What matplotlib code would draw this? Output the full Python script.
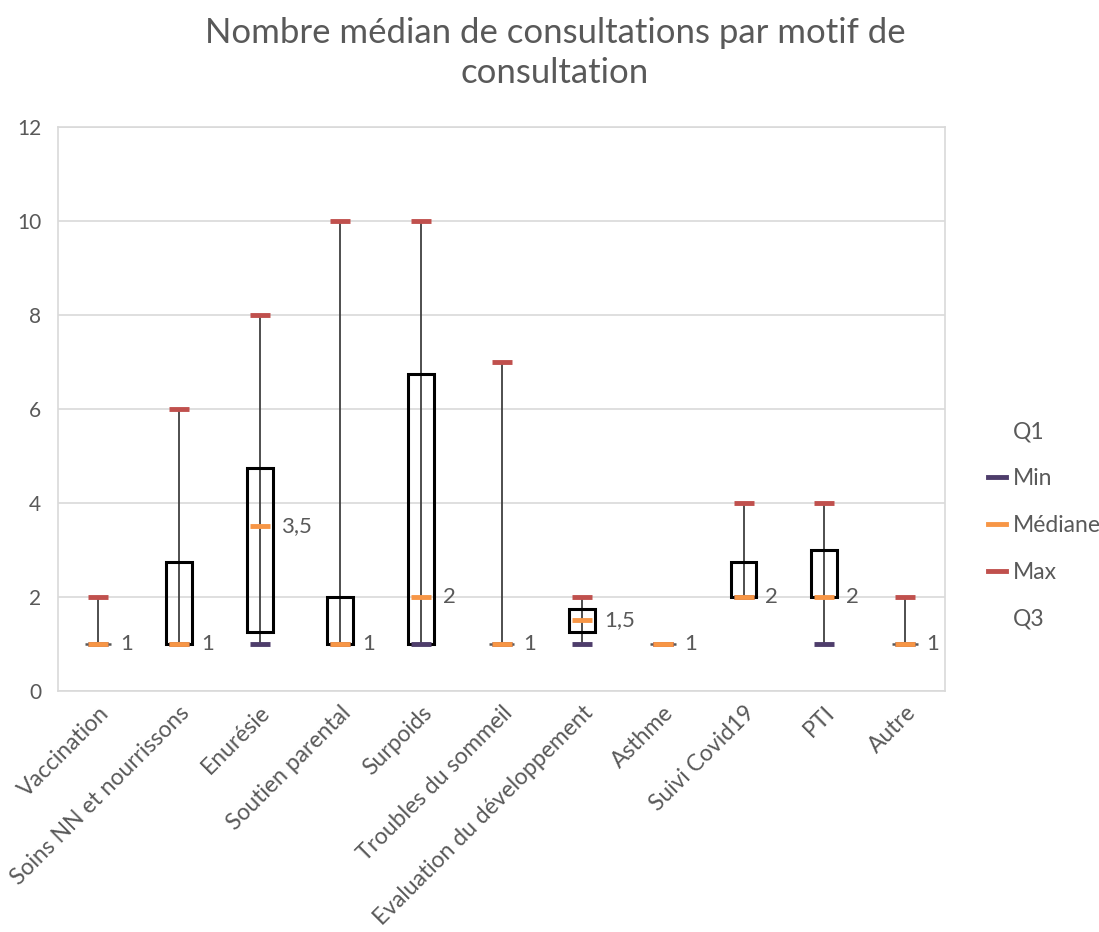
import numpy as np
import matplotlib.pyplot as plt
from matplotlib.lines import Line2D
from matplotlib.patches import Rectangle

plt.rcParams['font.family'] = ['Lato', 'DejaVu Sans']

# data
categories = ['Vaccination', 'Soins NN et nourrissons', 'Enurésie', 'Soutien parental',
              'Surpoids', 'Troubles du sommeil', 'Evaluation du développement',
              'Asthme', 'Suivi Covid19', 'PTI', 'Autre']
q1 = [1, 1, 1.25, 1, 1, 1, 1.25, 1, 2, 2, 1]
mins = [1, 1, 1, 1, 1, 1, 1, 1, 2, 1, 1]
medians = [1, 1, 3.5, 1, 2, 1, 1.5, 1, 2, 2, 1]
maxs = [2, 6, 8, 10, 10, 7, 2, 1, 4, 4, 2]
q3 = [1, 2.75, 4.75, 2, 6.75, 1, 1.75, 1, 2.75, 3, 1]

GRAY = '#595959'
C_MIN = '#4E3D6B'
C_MED = '#F79646'
C_MAX = '#C0504D'

fig = plt.figure(figsize=(10.99, 9.32), dpi=100)
ax = fig.add_axes([0.0528, 0.2586, 0.8072, 0.6051])

x = np.arange(len(categories))
bw = 0.32

# whiskers
ax.vlines(x, mins, maxs, color='#404040', lw=1.3, zorder=2)

# boxes Q1-Q3
for xi, a, b in zip(x, q1, q3):
    lo, hi = min(a, b), max(a, b)
    if hi - lo > 0:
        ax.add_patch(Rectangle((xi - bw / 2, lo), bw, hi - lo, fill=False,
                               edgecolor='black', lw=2.2, zorder=3))
    else:
        ax.hlines(lo, xi - bw / 2, xi + bw / 2, color=GRAY, lw=1.8, zorder=3)

# markers
ms = 14
ax.plot(x, mins, ls='none', marker='_', ms=ms, mew=3.5, color=C_MIN, zorder=4)
ax.plot(x, maxs, ls='none', marker='_', ms=ms, mew=3.5, color=C_MAX, zorder=4)
ax.plot(x, medians, ls='none', marker='_', ms=ms, mew=3.5, color=C_MED, zorder=5)

# median labels
for xi, m in zip(x, medians):
    lab = f'{m:g}'.replace('.', ',')
    ax.text(xi + 0.27, m, lab, ha='left', va='center', fontsize=16, color=GRAY)

ax.set_xlim(-0.5, len(categories) - 0.5)
ax.set_ylim(0, 12)
ax.set_yticks(range(0, 13, 2))
ax.set_xticks(x)
ax.set_xticklabels(categories, rotation=45, ha='right', rotation_mode='anchor')
ax.tick_params(axis='both', colors=GRAY, labelsize=15, length=0)
ax.tick_params(axis='x', labelsize=16.5, pad=8)
ax.tick_params(axis='y', pad=12)
ax.grid(axis='y', color='#D9D9D9', lw=1.2)
ax.set_axisbelow(True)
for s in ax.spines.values():
    s.set_color('#D9D9D9')
    s.set_linewidth(1.2)

fig.suptitle('Nombre médian de consultations par motif de\nconsultation',
             x=0.505, y=0.982, fontsize=25, color=GRAY, linespacing=1.3)

handles = [
    Line2D([], [], color='none', label='Q1'),
    Line2D([], [], color=C_MIN, lw=3.5, label='Min'),
    Line2D([], [], color=C_MED, lw=3.5, label='Médiane'),
    Line2D([], [], color=C_MAX, lw=3.5, label='Max'),
    Line2D([], [], color='none', label='Q3'),
]
leg = fig.legend(handles=handles, loc='center left', bbox_to_anchor=(0.88, 0.436),
                 frameon=False, fontsize=16.5, handlelength=0.8, handletextpad=0.3,
                 labelspacing=1.12, labelcolor=GRAY)

fig.savefig('out.png', dpi=100)
